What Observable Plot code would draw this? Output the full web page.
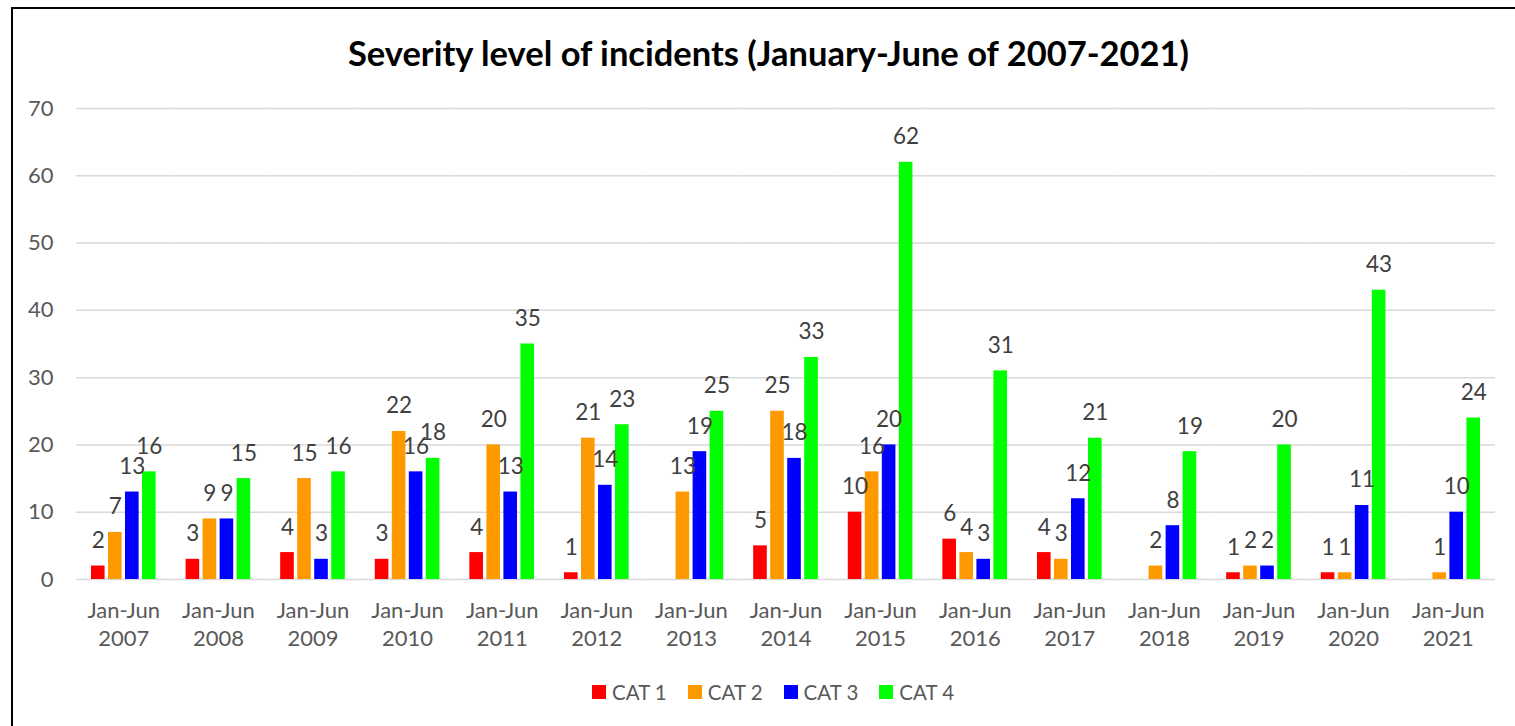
<!DOCTYPE html>
<html>
<head>
<meta charset="utf-8">
<script src="https://cdn.jsdelivr.net/npm/d3@7"></script>
<script src="https://cdn.jsdelivr.net/npm/@observablehq/plot@0.6"></script>
<style>
  html, body { margin: 0; padding: 0; background: #fff; overflow: hidden; width: 1515px; height: 726px; }
  #frame { position: absolute; left: 11px; top: 7px; width: 1600px; height: 800px; border: 2px solid #000; box-sizing: border-box; }
  #title { position: absolute; left: 0; width: 1537px; top: 32px; text-align: center; font-family: Lato, sans-serif; font-weight: bold; font-size: 34.5px; color: #000; line-height: 1.2; white-space: nowrap; }
  #chart { position: absolute; left: 0; top: 0; }
  #legend { position: absolute; left: 592px; top: 680px; display: flex; gap: 21px; font-family: Lato, sans-serif; font-size: 20.5px; color: #595959; }
  .item { display: flex; align-items: center; gap: 6px; }
  .sw { width: 14px; height: 14px; display: inline-block; }
</style>
</head>
<body>
<div id="frame"></div>
<div id="title">Severity level of incidents (January-June of 2007-2021)</div>
<div id="chart"></div>
<div id="legend"></div>
<script>
const years = [2007, 2008, 2009, 2010, 2011, 2012, 2013, 2014, 2015, 2016, 2017, 2018, 2019, 2020, 2021];
const categories = ["CAT 1", "CAT 2", "CAT 3", "CAT 4"];
const cat1 = [2, 3, 4, 3, 4, 1, 0, 5, 10, 6, 4, 0, 1, 1, 0];
const cat2 = [7, 9, 15, 22, 20, 21, 13, 25, 16, 4, 3, 2, 2, 1, 1];
const cat3 = [13, 9, 3, 16, 13, 14, 19, 18, 20, 3, 12, 8, 2, 11, 10];
const cat4 = [16, 15, 16, 18, 35, 23, 25, 33, 62, 31, 21, 19, 20, 43, 24];
const colors = ["#FF0000", "#FF9900", "#0000FF", "#00FF00"];
const yTicks = [0, 10, 20, 30, 40, 50, 60, 70];

const series = [cat1, cat2, cat3, cat4];
const data = [];
years.forEach((yr, i) => {
  categories.forEach((c, j) => {
    const v = series[j][i];
    if (v > 0) data.push({year: yr, cat: c, value: v});
  });
});

const chart = Plot.plot({
  width: 1515,
  height: 660,
  marginLeft: 76,
  marginRight: 20,
  marginTop: 108,
  marginBottom: 81,
  style: {fontFamily: "Lato, sans-serif", background: "transparent", overflow: "visible"},
  fx: {domain: years, padding: 0, round: false, axis: null, label: null},
  x: {domain: categories, paddingInner: 0.2, paddingOuter: 0.88, round: false, axis: null},
  y: {domain: [0, 70], axis: null},
  color: {domain: categories, range: colors},
  marks: [
    Plot.gridY(yTicks, {stroke: "#d9d9d9", strokeOpacity: 1, strokeWidth: 1.5}),
    Plot.axisY(yTicks, {tickSize: 0, tickPadding: 23, fontSize: 22, fill: "#595959", label: null}),
    Plot.text(years, {fx: d => d, frameAnchor: "bottom", text: d => `Jan-Jun\n${d}`, lineAnchor: "top", lineHeight: 1.27, dy: 19, fontSize: 22, fill: "#595959"}),
    Plot.barY(data, {fx: "year", x: "cat", y: "value", fill: "cat"}),
    Plot.text(data, {fx: "year", x: "cat", y: "value", text: d => String(d.value), lineAnchor: "bottom", dy: -18, fontSize: 22.5, fill: "#404040"})
  ]
});
document.getElementById("chart").appendChild(chart);

const legend = document.getElementById("legend");
categories.forEach((c, j) => {
  const it = document.createElement("div");
  it.className = "item";
  const sw = document.createElement("span");
  sw.className = "sw";
  sw.style.background = colors[j];
  const tx = document.createElement("span");
  tx.textContent = c;
  it.appendChild(sw);
  it.appendChild(tx);
  legend.appendChild(it);
});
</script>
</body>
</html>
